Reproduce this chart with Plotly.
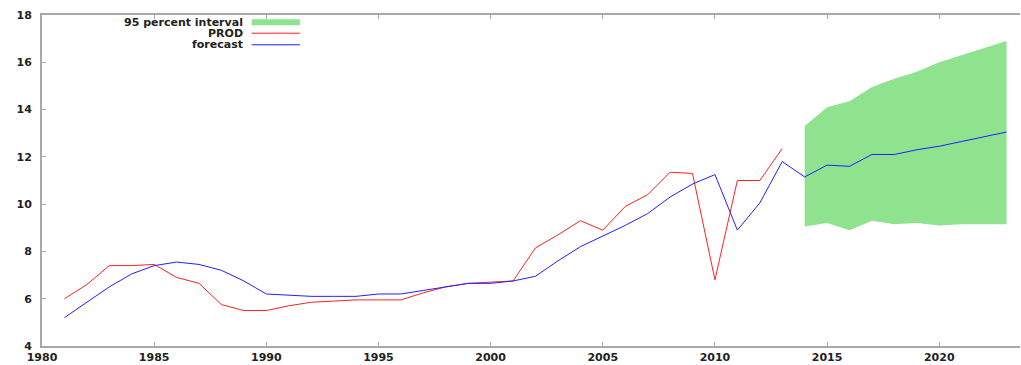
import plotly.graph_objects as go

years_prod = list(range(1981, 2014))
prod = [6.0, 6.6, 7.4, 7.4, 7.45, 6.9, 6.65, 5.75, 5.5, 5.5,
        5.7, 5.85, 5.9, 5.95, 5.95, 5.95, 6.25, 6.5, 6.65, 6.7,
        6.75, 8.15, 8.7, 9.3, 8.9, 9.9, 10.4, 11.35, 11.3, 6.8,
        11.0, 11.0, 12.35]

years_fc = list(range(1981, 2024))
forecast = [5.2, 5.85, 6.5, 7.05, 7.4, 7.55, 7.45, 7.2, 6.75, 6.2,
            6.15, 6.1, 6.1, 6.1, 6.2, 6.2, 6.35, 6.5, 6.65, 6.65,
            6.75, 6.95, 7.6, 8.2, 8.65, 9.1, 9.6, 10.3, 10.85, 11.25,
            8.9, 10.05, 11.8, 11.15, 11.65, 11.6, 12.1, 12.1, 12.3, 12.45,
            12.65, 12.85, 13.05]

years_band = list(range(2014, 2024))
band_upper = [13.3, 14.1, 14.35, 14.95, 15.3, 15.6, 16.0, 16.3, 16.6, 16.9]
band_lower = [9.05, 9.2, 8.9, 9.3, 9.15, 9.2, 9.1, 9.15, 9.15, 9.15]

x_ticks = [1980, 1985, 1990, 1995, 2000, 2005, 2010, 2015, 2020]
y_ticks = [4, 6, 8, 10, 12, 14, 16, 18]

legend_labels = ["95 percent interval", "PROD", "forecast"]

GREEN = "#8fe38f"
RED = "#ff2020"
BLUE = "#2020ff"
FONT = dict(family="DejaVu Sans", size=11, color="#222222", weight="bold")

fig = go.Figure()
fig.add_trace(go.Scatter(x=years_band, y=band_lower, mode="lines",
                         line=dict(width=0, color=GREEN), showlegend=False,
                         hoverinfo="skip"))
fig.add_trace(go.Scatter(x=years_band, y=band_upper, mode="lines",
                         line=dict(width=0, color=GREEN), fill="tonexty",
                         fillcolor=GREEN, name=legend_labels[0], showlegend=False))
fig.add_trace(go.Scatter(x=years_prod, y=prod, mode="lines",
                         line=dict(width=1, color=RED), name=legend_labels[1],
                         showlegend=False))
fig.add_trace(go.Scatter(x=years_fc, y=forecast, mode="lines",
                         line=dict(width=1, color=BLUE), name=legend_labels[2],
                         showlegend=False))

# gretl-style legend: text right-aligned, sample to the right
leg_y = [0.978, 0.945, 0.91]
leg_colors = [GREEN, RED, BLUE]
leg_widths = [6, 1, 1]
for lab, yy, col, w in zip(legend_labels, leg_y, leg_colors, leg_widths):
    fig.add_annotation(x=1989.05, y=yy, xref="x", yref="paper", text=lab,
                       showarrow=False, xanchor="right", yanchor="middle",
                       font=FONT)
    fig.add_shape(type="line", xref="x", yref="paper", x0=1989.35, x1=1991.5,
                  y0=yy, y1=yy, line=dict(color=col, width=w))

axis_common = dict(showline=True, linecolor="#a8a8a8", linewidth=2,
                   ticks="inside", ticklen=4, tickcolor="#a8a8a8",
                   showgrid=False, zeroline=False, tickfont=FONT)

fig.update_xaxes(range=[1980, 2023.6], tickvals=x_ticks, mirror="ticks",
                 **axis_common)
fig.update_yaxes(range=[4, 18], tickvals=y_ticks, mirror=False,
                 ticklabelstandoff=6, **axis_common)

fig.update_layout(width=1021, height=365, margin=dict(l=42, r=1, t=15, b=16),
                  plot_bgcolor="white", paper_bgcolor="white", showlegend=False)

fig.write_html("out.html")
